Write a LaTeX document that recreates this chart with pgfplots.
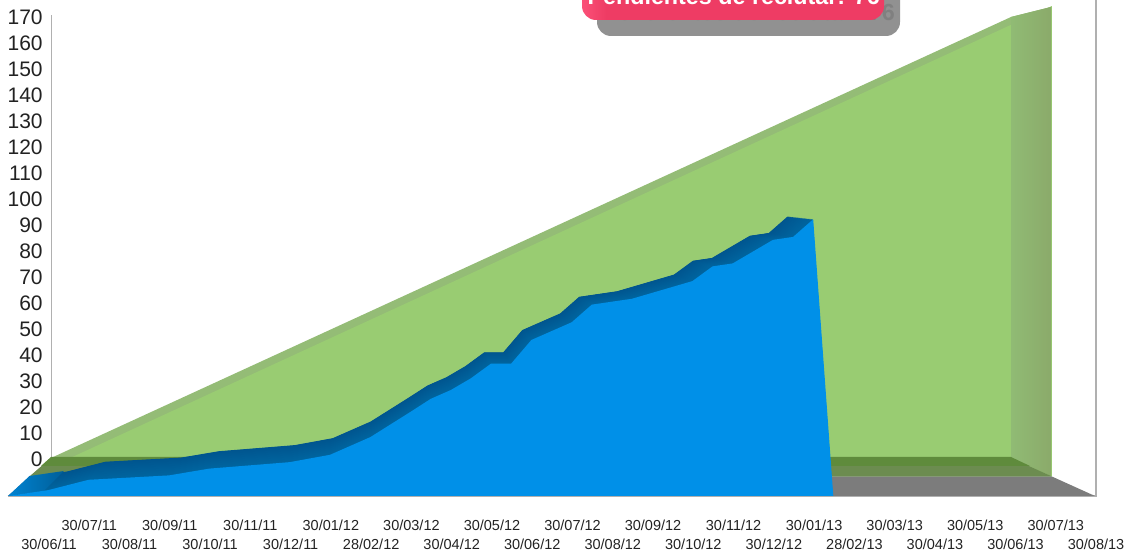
\documentclass[border=0pt]{standalone}
\usepackage{fontspec}
\setmainfont{Liberation Sans}
\usepackage{pgfplots}
\usepackage{pgfplotstable}
\pgfplotsset{compat=1.18}
\definecolor{gFront}{HTML}{99CC72}
\definecolor{gTop}{HTML}{94BC76}
\definecolor{gSideA}{HTML}{90BB74}
\definecolor{gSideB}{HTML}{8BAA6A}
\definecolor{gFloorA}{HTML}{5F8B3C}
\definecolor{gFloorB}{HTML}{6C8C50}
\definecolor{floorg}{HTML}{7C7C7C}
\definecolor{bFront}{HTML}{0090E8}
\definecolor{bBack}{HTML}{00558F}
\definecolor{bMid}{HTML}{00659F}
\definecolor{axg}{HTML}{B0B0B0}
\definecolor{txt}{HTML}{222222}
\definecolor{badge}{HTML}{EE3C64}
\definecolor{badgeL}{HTML}{FB5078}
\pgfdeclarehorizontalshading{badgesh}{100bp}{color(0bp)=(badgeL);color(25bp)=(badgeL);color(29bp)=(badge);color(100bp)=(badge)}
% half-month index, value
\pgfplotstableread{
i v
0 0
2 2
4 5.5
8 7
10 9.3
14 11.5
16 14
18 20
20 28.6
21 33
22 36
23 40
24 45
25 45
26 53
28 59
29 65
30 66
31 67
32 69
33 71
34 73
35 78
36 79
38 87
39 88
40 94
41 0
}\blueT
\pgfplotstableread{
i v
0 0
54 170
54 0
}\greenT
\newcommand{\depthplot}[3]{%
 \addplot[fill=#2,draw=none,forget plot] table[
  x expr={51-21.5*#1+(960+63.5*#1)*\thisrow{i}/54},
  y expr={553-(458+19*#1)+2.6*(960+63.5*#1)/960*\thisrow{v}}] {#3} -- cycle;}
\begin{document}
\begin{tikzpicture}[x=1pt,y=1pt]
\path[use as bounding box] (0,0) rectangle (1134,553);
\begin{axis}[
 at={(8pt,57pt)},anchor=south west,scale only axis,
 width=1089pt,height=496pt,
 xmin=8,xmax=1097,ymin=57,ymax=553,
 clip=false,
 axis x line=bottom,axis y line=left,
 x axis line style={draw=axg,line width=1.2pt,-},
 y axis line style={draw=none,-},
 tick style={draw=none},
 /pgf/number format/assume math mode=true,
 ytick={94,120,146,172,198,224,250,276,302,328,354,380,406,432,458,484,510,536},
 yticklabels={0,10,20,30,40,50,60,70,80,90,100,110,120,130,140,150,160,170},
 y tick label style={anchor=east,xshift=37pt,inner sep=0pt,font=\fontsize{21}{21}\selectfont,text=txt},
 xtick={49,89.27,129.54,169.81,210.08,250.35,290.62,330.89,371.16,411.43,451.7,491.97,532.24,572.51,612.78,653.05,693.32,733.59,773.86,814.13,854.4,894.67,934.94,975.21,1015.48,1055.75,1096.02},
 xticklabels={
 {\strut\\30/06/11},{30/07/11\\\strut},{\strut\\30/08/11},{30/09/11\\\strut},{\strut\\30/10/11},{30/11/11\\\strut},{\strut\\30/12/11},{30/01/12\\\strut},{\strut\\28/02/12},{30/03/12\\\strut},{\strut\\30/04/12},{30/05/12\\\strut},{\strut\\30/06/12},{30/07/12\\\strut},{\strut\\30/08/12},{30/09/12\\\strut},{\strut\\30/10/12},{30/11/12\\\strut},{\strut\\30/12/12},{30/01/13\\\strut},{\strut\\28/02/13},{30/03/13\\\strut},{\strut\\30/04/13},{30/05/13\\\strut},{\strut\\30/06/13},{30/07/13\\\strut},{\strut\\30/08/13}},
 x tick label style={align=center,font=\fontsize{14.5}{17}\selectfont,text=txt,inner sep=0pt,yshift=-22pt},
]
% axis walls and floor
\addplot[draw=axg,line width=1.6pt,forget plot] coordinates {(51.5,95) (51.5,538)};
\addplot[draw=axg,line width=1.8pt,forget plot] coordinates {(1096,57) (1096,553)};
\addplot[fill=floorg,draw=none,forget plot] coordinates {(51,95) (1011,95) (1095,57) (8,57)} -- cycle;
% green series
\addplot[fill=gTop,draw=none,forget plot] coordinates {(51,95) (1011,536) (1051,546) (1051,535) (30,70)} -- cycle;
\depthplot{0.97}{gFront}{\greenT}
\addplot[shade,left color=gSideA,right color=gSideB,draw=none,forget plot] coordinates {(1011,536) (1051,546) (1051,77) (1011,95)} -- cycle;
\addplot[fill=gFloorB,draw=none,forget plot] coordinates {(51,95) (1011,95) (1051,77) (30,77)} -- cycle;
\addplot[fill=gFloorA,draw=none,forget plot] coordinates {(51,96) (1011,96) (1030,87) (41,87)} -- cycle;
% blue series, swept from its back to its front
\pgfplotsinvokeforeach{0,...,39}{%
 \pgfmathsetmacro{\dd}{1+#1/40}%
 \pgfmathtruncatemacro{\mixv}{100-#1*2.5}%
 \edef\temp{\noexpand\depthplot{\dd}{bBack!\mixv!bMid}{\noexpand\blueT}}\temp
}
\addplot[shade,left color=bFront!70!bMid,right color=bBack!40!bMid,draw=none,forget plot] coordinates {(8,57) (29.5,77) (64,82) (44,62)} -- cycle;
\depthplot{2}{bFront}{\blueT}
\end{axis}
% badge, cut off by the top of the picture
\fill[rounded corners=14pt,color=black!43] (597,517) rectangle (900,580);
\node[anchor=base east,inner sep=0pt,font=\fontsize{23.3}{24}\selectfont\bfseries,text=black!50] at (895,532) {Pendientes de reclutar: 76};
\path[rounded corners=14pt,shading=badgesh] (582,533) rectangle (884,590);
\node[anchor=base east,inner sep=0pt,font=\fontsize{23.3}{24}\selectfont\bfseries,text=white] at (880,548) {Pendientes de reclutar: 76};
\end{tikzpicture}
\end{document}
